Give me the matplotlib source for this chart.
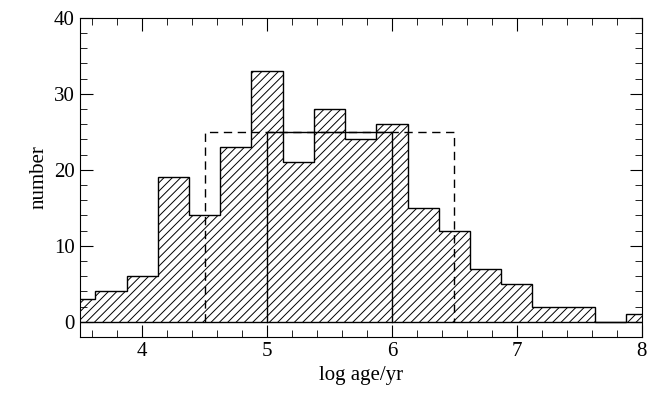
import matplotlib
matplotlib.use("Agg")
import matplotlib.pyplot as plt
import numpy as np
from matplotlib.ticker import MultipleLocator

edges = [3.375 + 0.25 * i for i in range(20)]
counts = [3, 4, 6, 19, 14, 23, 33, 21, 28, 24, 26, 15, 12, 7, 5, 2, 2, 0, 1]
solid_box = (5.0, 6.0, 25)
dashed_box = (4.5, 6.5, 25)

plt.rcParams['font.family'] = ['Liberation Serif', 'DejaVu Serif']
plt.rcParams['hatch.linewidth'] = 0.7
fig = plt.figure(figsize=(6.65, 4.05), dpi=100)
ax = fig.add_axes([0.12, 0.168, 0.845, 0.788])

ax.stairs(counts, edges, fill=False, hatch='////', edgecolor='black', linewidth=1.0, baseline=0)
x0, x1, h = solid_box
ax.plot([x0, x0, x1, x1], [0, h, h, 0], color='black', lw=1.0)
x0, x1, h = dashed_box
ax.plot([x0, x0, x1, x1], [0, h, h, 0], color='black', lw=1.0, ls=(0, (6, 4)))
ax.axhline(0, color='black', lw=1.0)

ax.set_xlim(3.5, 8)
ax.set_ylim(-2, 40)
ax.xaxis.set_major_locator(MultipleLocator(1))
ax.xaxis.set_minor_locator(MultipleLocator(0.2))
ax.yaxis.set_major_locator(MultipleLocator(10))
ax.yaxis.set_minor_locator(MultipleLocator(2))
ax.tick_params(which='both', direction='in', top=True, right=True, labelsize=15)
ax.tick_params(which='major', length=9)
ax.tick_params(which='minor', length=5)
ax.set_xlabel('log age/yr', fontsize=15)
ax.set_ylabel('number', fontsize=15)
fig.savefig('out.png')
